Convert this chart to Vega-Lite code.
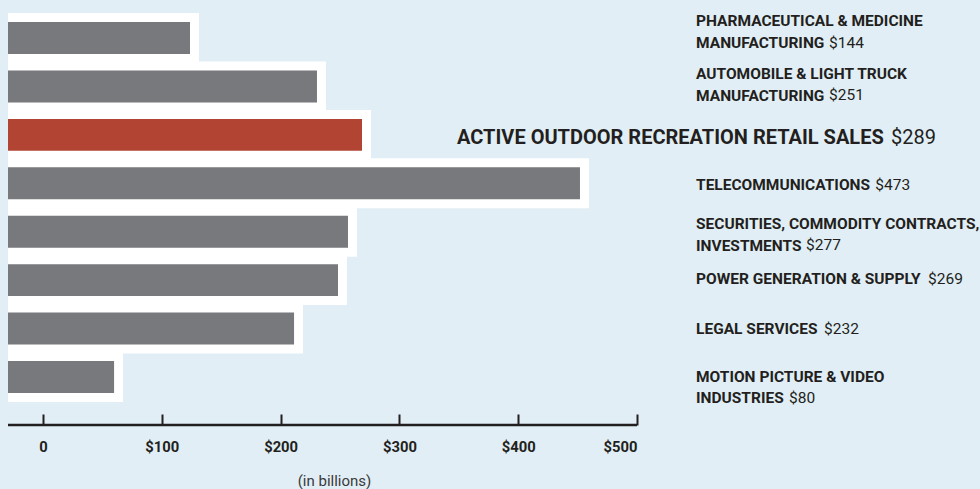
{
  "$schema": "https://vega.github.io/schema/vega-lite/v6.json",
  "width": 629,
  "height": 425,
  "autosize": {"type": "none"},
  "padding": {"left": 8, "right": 343, "top": 0, "bottom": 64},
  "background": "#e1eef5",
  "view": {"stroke": null},
  "config": {
    "font": "Roboto, sans-serif",
    "text": {"font": "Roboto, sans-serif", "color": "#231f20", "align": "left", "baseline": "alphabetic", "lineHeight": 21.5, "lineBreak": "\n"}
  },
  "data": {
    "values": [
      {"id": 1, "industry": "Pharmaceutical & Medicine Manufacturing", "label": "PHARMACEUTICAL & MEDICINE\nMANUFACTURING", "value": 144, "bar": 123.7, "highlight": false},
      {"id": 2, "industry": "Automobile & Light Truck Manufacturing", "label": "AUTOMOBILE & LIGHT TRUCK\nMANUFACTURING", "value": 251, "bar": 230.6, "highlight": false},
      {"id": 3, "industry": "Active Outdoor Recreation Retail Sales", "label": "ACTIVE OUTDOOR RECREATION RETAIL SALES", "value": 289, "bar": 268.5, "highlight": true},
      {"id": 4, "industry": "Telecommunications", "label": "TELECOMMUNICATIONS", "value": 473, "bar": 452.0, "highlight": false},
      {"id": 5, "industry": "Securities, Commodity Contracts, Investments", "label": "SECURITIES, COMMODITY CONTRACTS,\nINVESTMENTS", "value": 277, "bar": 256.7, "highlight": false},
      {"id": 6, "industry": "Power Generation & Supply", "label": "POWER GENERATION & SUPPLY", "value": 269, "bar": 248.3, "highlight": false},
      {"id": 7, "industry": "Legal Services", "label": "LEGAL SERVICES", "value": 232, "bar": 211.3, "highlight": false},
      {"id": 8, "industry": "Motion Picture & Video Industries", "label": "MOTION PICTURE & VIDEO\nINDUSTRIES", "value": 80, "bar": 59.8, "highlight": false}
    ]
  },
  "layer": [
    {
      "mark": {"type": "bar", "color": "#ffffff", "stroke": "#ffffff", "strokeWidth": 18, "strokeJoin": "miter", "clip": true},
      "encoding": {
        "y": {
          "field": "industry", "type": "nominal", "sort": null, "axis": null,
          "scale": {
            "domain": ["Pharmaceutical & Medicine Manufacturing", "Automobile & Light Truck Manufacturing", "Active Outdoor Recreation Retail Sales", "Telecommunications", "Securities, Commodity Contracts, Investments", "Power Generation & Supply", "Legal Services", "Motion Picture & Video Industries"],
            "range": [13.8, 401.2], "paddingInner": 0.34, "paddingOuter": 0.17
          }
        },
        "x": {
          "field": "bar", "type": "quantitative",
          "scale": {"domain": [-29.5, 500], "nice": false, "zero": false},
          "axis": {
            "values": [0, 100, 200, 300, 400, 500],
            "labelExpr": "datum.value == 0 ? '0' : '$' + datum.value",
            "domain": false, "grid": false,
            "ticks": true, "tickSize": -11, "tickWidth": 2, "tickColor": "#231f20",
            "labelFont": "Roboto, sans-serif",
            "labelFontWeight": "bold", "labelFontSize": 14.8, "labelColor": "#231f20",
            "labelPadding": 25.5, "labelBaseline": "top",
            "title": "(in billions)",
            "titleFont": "Roboto, sans-serif",
            "titleFontWeight": "normal", "titleFontSize": 15, "titleColor": "#3a3a3a",
            "titleX": 326, "titleY": 60, "titleBaseline": "alphabetic", "titleAlign": "center", "titleAnchor": null
          }
        },
        "x2": {"datum": -29.5}
      }
    },
    {
      "mark": {"type": "bar"},
      "encoding": {
        "y": {"field": "industry", "type": "nominal", "sort": null},
        "x": {"field": "bar", "type": "quantitative"},
        "x2": {"datum": -29.5},
        "color": {"condition": {"test": "datum.highlight", "value": "#b14432"}, "value": "#78797d"}
      }
    },
    {
      "data": {"values": [{}]},
      "mark": {"type": "rule", "y": "height", "strokeWidth": 2.6, "color": "#231f20", "strokeCap": "butt"},
      "encoding": {"x": {"datum": -29.5}, "x2": {"datum": 500}}
    },
    {
      "transform": [{"filter": "datum.id == 1"}],
      "encoding": {"y": {"field": "industry", "type": "nominal", "sort": null}},
      "layer": [
        {"mark": {"type": "text", "fontWeight": "bold", "fontSize": 15.5, "dy": -12}, "encoding": {"x": {"datum": 549.7}, "text": {"field": "label"}}},
        {"mark": {"type": "text", "fontWeight": "normal", "fontSize": 15.5, "dy": 9.6}, "encoding": {"x": {"datum": 661.7}, "text": {"field": "value", "type": "quantitative", "format": "$d"}}}
      ]
    },
    {
      "transform": [{"filter": "datum.id == 2"}],
      "encoding": {"y": {"field": "industry", "type": "nominal", "sort": null}},
      "layer": [
        {"mark": {"type": "text", "fontWeight": "bold", "fontSize": 15.5, "dy": -7.4}, "encoding": {"x": {"datum": 549.7}, "text": {"field": "label"}}},
        {"mark": {"type": "text", "fontWeight": "normal", "fontSize": 15.5, "dy": 13.6}, "encoding": {"x": {"datum": 661.7}, "text": {"field": "value", "type": "quantitative", "format": "$d"}}}
      ]
    },
    {
      "transform": [{"filter": "datum.id == 3"}],
      "encoding": {"y": {"field": "industry", "type": "nominal", "sort": null}},
      "layer": [
        {"mark": {"type": "text", "fontWeight": "bold", "fontSize": 20, "dy": 9.1}, "encoding": {"x": {"datum": 348.5}, "text": {"field": "label"}}},
        {"mark": {"type": "text", "fontWeight": "normal", "fontSize": 20, "dy": 9.1}, "encoding": {"x": {"datum": 713.9}, "text": {"field": "value", "type": "quantitative", "format": "$d"}}}
      ]
    },
    {
      "transform": [{"filter": "datum.id == 4"}],
      "encoding": {"y": {"field": "industry", "type": "nominal", "sort": null}},
      "layer": [
        {"mark": {"type": "text", "fontWeight": "bold", "fontSize": 15.5, "dy": 6.7}, "encoding": {"x": {"datum": 549.7}, "text": {"field": "label"}}},
        {"mark": {"type": "text", "fontWeight": "normal", "fontSize": 15.5, "dy": 6.7}, "encoding": {"x": {"datum": 700.6}, "text": {"field": "value", "type": "quantitative", "format": "$d"}}}
      ]
    },
    {
      "transform": [{"filter": "datum.id == 5"}],
      "encoding": {"y": {"field": "industry", "type": "nominal", "sort": null}},
      "layer": [
        {"mark": {"type": "text", "fontWeight": "bold", "fontSize": 15.5, "dy": -2.7}, "encoding": {"x": {"datum": 549.7}, "text": {"field": "label"}}},
        {"mark": {"type": "text", "fontWeight": "normal", "fontSize": 15.5, "dy": 18.3}, "encoding": {"x": {"datum": 642.3}, "text": {"field": "value", "type": "quantitative", "format": "$d"}}}
      ]
    },
    {
      "transform": [{"filter": "datum.id == 6"}],
      "encoding": {"y": {"field": "industry", "type": "nominal", "sort": null}},
      "layer": [
        {"mark": {"type": "text", "fontWeight": "bold", "fontSize": 15.5, "dy": 3.8}, "encoding": {"x": {"datum": 549.7}, "text": {"field": "label"}}},
        {"mark": {"type": "text", "fontWeight": "normal", "fontSize": 15.5, "dy": 3.8}, "encoding": {"x": {"datum": 745.0}, "text": {"field": "value", "type": "quantitative", "format": "$d"}}}
      ]
    },
    {
      "transform": [{"filter": "datum.id == 7"}],
      "encoding": {"y": {"field": "industry", "type": "nominal", "sort": null}},
      "layer": [
        {"mark": {"type": "text", "fontWeight": "bold", "fontSize": 15.5, "dy": 5.4}, "encoding": {"x": {"datum": 549.7}, "text": {"field": "label"}}},
        {"mark": {"type": "text", "fontWeight": "normal", "fontSize": 15.5, "dy": 5.4}, "encoding": {"x": {"datum": 657.5}, "text": {"field": "value", "type": "quantitative", "format": "$d"}}}
      ]
    },
    {
      "transform": [{"filter": "datum.id == 8"}],
      "encoding": {"y": {"field": "industry", "type": "nominal", "sort": null}},
      "layer": [
        {"mark": {"type": "text", "fontWeight": "bold", "fontSize": 15.5, "dy": 4.8}, "encoding": {"x": {"datum": 549.7}, "text": {"field": "label"}}},
        {"mark": {"type": "text", "fontWeight": "normal", "fontSize": 15.5, "dy": 25.8}, "encoding": {"x": {"datum": 628.0}, "text": {"field": "value", "type": "quantitative", "format": "$d"}}}
      ]
    }
  ]
}
